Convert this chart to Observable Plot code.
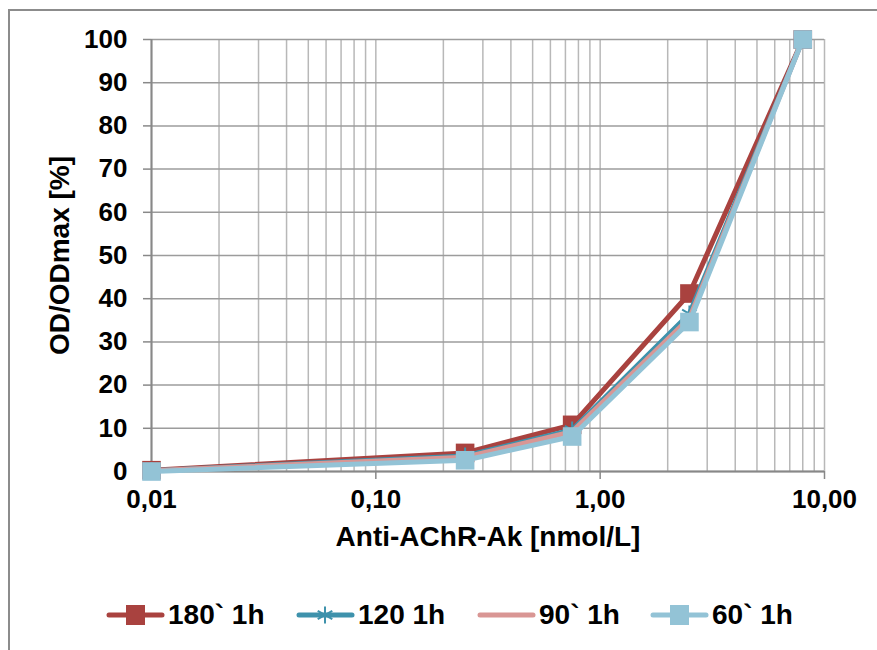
<!DOCTYPE html>
<html><head><meta charset="utf-8">
<script src="https://cdn.jsdelivr.net/npm/d3@7"></script>
<script src="https://cdn.jsdelivr.net/npm/@observablehq/plot@0.6"></script>
<style>
body{margin:0;background:#fff;font-family:"Liberation Sans",Arial,sans-serif;}
#wrap{position:relative;width:877px;height:650px;overflow:hidden;background:#fff;}
#border{position:absolute;left:8px;top:9px;width:900px;height:700px;border:2px solid #8c8c8c;box-sizing:border-box;}
#chart{position:absolute;left:0;top:0;}
#legend{position:absolute;left:0;top:580px;width:877px;height:70px;}
.item{position:absolute;top:19px;display:flex;align-items:center;height:32px;font-weight:bold;font-size:28px;color:#000;}
</style></head><body>
<div id="wrap"><div id="border"></div><div id="chart"></div><div id="legend"></div></div>
<script>
// Data
const concentrations = [0.01, 0.25, 0.75, 2.5, 8];
const seriesNames = ["180` 1h", "120 1h", "90` 1h", "60` 1h"];
const s180 = [0.3, 4.3, 10.8, 41.2, 100];
const s120 = [0.2, 3.6, 9.6, 36.5, 100];
const s90  = [0.2, 3.3, 9.2, 35.5, 100];
const s60  = [0.0, 2.6, 8.1, 34.6, 100];
const xTickValues = [0.01, 0.1, 1, 10];
const yTickValues = [0, 10, 20, 30, 40, 50, 60, 70, 80, 90, 100];
const xTitle = "Anti-AChR-Ak [nmol/L]";
const yTitle = "OD/ODmax [%]";

const seriesValues = [s180, s120, s90, s60];
const colors = ["#A9423F", "#3E92AC", "#D99694", "#93C3D6"];
const markers = ["square", "asterisk", null, "square"];

const data = seriesNames.flatMap((name, i) =>
  concentrations.map((c, j) => ({series: name, x: c, y: seriesValues[i][j]})));

const gridX = d3.scaleLog().domain([0.01, 10]).ticks();
const fmtX = d => d.toFixed(2).replace(".", ",");

const seriesMarks = seriesNames.flatMap((name, i) => {
  const rows = data.filter(d => d.series === name);
  const m = [Plot.line(rows, {x: "x", y: "y", stroke: colors[i], strokeWidth: 5, strokeLinejoin: "round", strokeLinecap: "round"})];
  if (markers[i] === "square") m.push(Plot.dot(rows, {x: "x", y: "y", symbol: "square", r: 10.5, fill: colors[i], stroke: "none"}));
  if (markers[i] === "asterisk") m.push(Plot.dot(rows, {x: "x", y: "y", symbol: "asterisk", r: 8, stroke: colors[i], strokeWidth: 2}));
  return m;
});

const chart = Plot.plot({
  width: 877, height: 580,
  marginLeft: 151, marginRight: 53, marginTop: 39, marginBottom: 109,
  x: {type: "log", domain: [0.01, 10]},
  y: {domain: [0, 100]},
  style: {fontFamily: "'Liberation Sans', Arial, sans-serif", fontWeight: "bold", fontSize: "26px", background: "transparent", color: "#000"},
  marks: [
    Plot.ruleX(gridX, {stroke: "#b8b8b8", strokeWidth: 1.5}),
    Plot.ruleY(yTickValues, {stroke: "#9c9c9c", strokeWidth: 1.5}),
    Plot.axisY({ticks: yTickValues, tickSize: 8, tickPadding: 16, stroke: "#888", strokeWidth: 1.5, fill: "#000", label: null, tickFormat: d => String(d), fontSize: 26}),
    Plot.axisX({ticks: xTickValues, tickSize: 8, tickPadding: 10, stroke: "#888", strokeWidth: 1.5, fill: "#000", label: null, tickFormat: fmtX, fontSize: 26}),
    Plot.ruleX([0.01], {stroke: "#888", strokeWidth: 2}),
    Plot.ruleY([0], {stroke: "#888", strokeWidth: 2}),
    ...seriesMarks,
    Plot.text([xTitle], {frameAnchor: "bottom", dy: 74, fontSize: 28, fontWeight: "bold", fill: "#000"}),
    Plot.text([yTitle], {frameAnchor: "left", dx: -91, rotate: -90, textAnchor: "middle", fontSize: 28, fontWeight: "bold", fill: "#000"})
  ]
});
document.getElementById("chart").append(chart);

// Legend
const legendLeft = [105, 295, 476, 649];
const legend = document.getElementById("legend");
seriesNames.forEach((name, i) => {
  const item = document.createElement("div");
  item.className = "item";
  item.style.left = legendLeft[i] + "px";
  const ns = "http://www.w3.org/2000/svg";
  const svg = document.createElementNS(ns, "svg");
  svg.setAttribute("width", 60); svg.setAttribute("height", 24);
  const line = document.createElementNS(ns, "line");
  line.setAttribute("x1", 4); line.setAttribute("x2", 57); line.setAttribute("y1", 12); line.setAttribute("y2", 12);
  line.setAttribute("stroke", colors[i]); line.setAttribute("stroke-width", 5); line.setAttribute("stroke-linecap", "round");
  svg.append(line);
  if (markers[i] === "square") {
    const r = document.createElementNS(ns, "rect");
    r.setAttribute("x", 21); r.setAttribute("y", 2); r.setAttribute("width", 19); r.setAttribute("height", 20);
    r.setAttribute("fill", colors[i]);
    svg.append(r);
  } else if (markers[i] === "asterisk") {
    const p = document.createElementNS(ns, "path");
    p.setAttribute("d", d3.symbol(d3.symbolAsterisk, 200)());
    p.setAttribute("transform", "translate(30,12)");
    p.setAttribute("stroke", colors[i]); p.setAttribute("stroke-width", 2); p.setAttribute("fill", "none");
    svg.append(p);
  }
  const t = document.createElement("span");
  t.textContent = name;
  t.style.marginLeft = "3px";
  item.append(svg, t);
  legend.append(item);
});
</script>
</body></html>
